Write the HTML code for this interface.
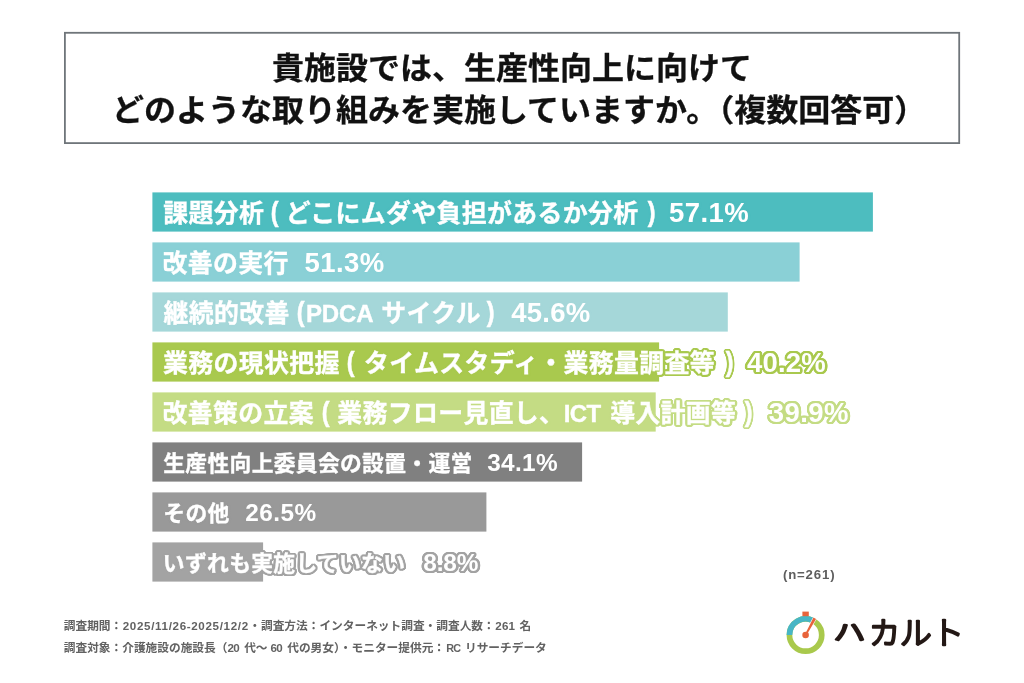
<!DOCTYPE html>
<html lang="ja">
<head>
<meta charset="utf-8">
<title>生産性向上に向けた取り組み</title>
<style>
  html, body { margin: 0; padding: 0; background: #ffffff; }
  body {
    width: 1024px; height: 683px; position: relative; overflow: hidden;
    font-family: "Liberation Sans", "Noto Sans CJK JP", sans-serif;
    font-weight: 700;
    filter: blur(0.45px);
  }
  .titlebox { position: absolute; left: 0; top: 0; }
  .tl {
    position: absolute; font-size: 32px; line-height: 40px; height: 40px;
    color: #111; white-space: nowrap; letter-spacing: 0; -webkit-text-stroke: 0.3px #111;
    transform: scaleY(0.96); transform-origin: 0 50%;
  }
  .tl1 { left: 272px; top: 48.2px; }
  .tl2 { left: 111.9px; top: 90.2px; }

  .bars { position: absolute; left: 0; top: 0; }
  .lbl {
    position: absolute; height: 40px; line-height: 40px;
    color: #fff; white-space: nowrap; letter-spacing: 0;
    -webkit-text-stroke: 0.35px #fff;
    text-shadow: 2.40px 0.00px 0 var(--c), 2.28px 0.74px 0 var(--c), 1.94px 1.41px 0 var(--c), 1.41px 1.94px 0 var(--c), 0.74px 2.28px 0 var(--c), 0.00px 2.40px 0 var(--c), -0.74px 2.28px 0 var(--c), -1.41px 1.94px 0 var(--c), -1.94px 1.41px 0 var(--c), -2.28px 0.74px 0 var(--c), -2.40px 0.00px 0 var(--c), -2.28px -0.74px 0 var(--c), -1.94px -1.41px 0 var(--c), -1.41px -1.94px 0 var(--c), -0.74px -2.28px 0 var(--c), -0.00px -2.40px 0 var(--c), 0.74px -2.28px 0 var(--c), 1.41px -1.94px 0 var(--c), 1.94px -1.41px 0 var(--c), 2.28px -0.74px 0 var(--c), 1.30px 0.00px 0 var(--c), 1.05px 0.76px 0 var(--c), 0.40px 1.24px 0 var(--c), -0.40px 1.24px 0 var(--c), -1.05px 0.76px 0 var(--c), -1.30px 0.00px 0 var(--c), -1.05px -0.76px 0 var(--c), -0.40px -1.24px 0 var(--c), 0.40px -1.24px 0 var(--c), 1.05px -0.76px 0 var(--c);
  }
  .ra { font-size: 24.9px; }
  .rb { font-size: 21.8px; }
  .ra .t { letter-spacing: 0.35px; }
  .rb .t { letter-spacing: 0.3px; }
  .lbl .p { -webkit-text-stroke: 0.5px #fff; display: inline-block; font-size: 1.09em; line-height: 1; transform: scaleX(0.86); position: relative; top: -0.6px; }
  .lbl .v { letter-spacing: 0.3px; -webkit-text-stroke: 0; }
  .foot {
    position: absolute; font-size: 11.7px; color: #626262; white-space: nowrap;
    line-height: 16px; height: 16px;
  }
  .foot .d { font-size: 11.6px; }
  .foot .u { font-size: 10.8px; }
  .ncount { position: absolute; left: 782.9px; top: 567.4px; font-size: 13.2px; letter-spacing: 0.85px; color: #5e5e5e; line-height: 16px; white-space: nowrap; }
</style>
</head>
<body>

<svg class="titlebox" width="1024" height="160" viewBox="0 0 1024 160"><rect x="64.9" y="32.8" width="894.3" height="110.3" fill="#ffffff" stroke="#6f757a" stroke-width="1.8"/></svg>
<div class="tl tl1">貴施設では、生産性向上に向けて</div>
<div class="tl tl2">どのような取り組みを実施していますか。（複数回答可）</div>

<svg class="bars" width="1024" height="683" viewBox="0 0 1024 683">
  <rect x="152.4" y="192.4" width="720.5" height="39.2" fill="#4dbdbf"/>
  <rect x="152.4" y="242.4" width="647.2" height="39.2" fill="#8ad0d6"/>
  <rect x="152.4" y="292.4" width="575.4" height="39.2" fill="#a5d7d9"/>
  <rect x="152.4" y="342.4" width="506.7" height="39.2" fill="#a9c94e"/>
  <rect x="152.4" y="392.4" width="503.3" height="39.2" fill="#c4dc84"/>
  <rect x="152.4" y="442.4" width="429.7" height="39.2" fill="#808080"/>
  <rect x="152.4" y="492.4" width="334" height="39.2" fill="#999999"/>
  <rect x="152.4" y="542.4" width="110.7" height="39.2" fill="#a3a3a3"/>
</svg>
<div class="lbl ra" style="left:163.25px;top:192.50px;--c:#4dbdbf"><span class="t">課題分析</span> <span class="p" style="margin-left:-1.50px">(</span> <span class="t" style="margin-left:0.15px">どこにムダや負担があるか分析</span> <span class="p" style="margin-left:1.55px">)</span>&nbsp; <span class="v" style="margin-left:-0.70px;font-size:27.50px;letter-spacing:0.44px">57.1%</span></div>
<div class="lbl ra" style="left:162.50px;top:242.50px;--c:#8ad0d6"><span class="t">改善の実行</span>&nbsp; <span class="v" style="margin-left:1.95px;font-size:27.50px;letter-spacing:0.46px">51.3%</span></div>
<div class="lbl ra" style="left:163.50px;top:292.50px;--c:#a5d7d9"><span class="t">継続的改善</span> <span class="p" style="margin-left:-0.50px">(</span><span class="l" style="margin-left:0.70px;font-size:24.00px;letter-spacing:-0.10px">PDCA</span> <span class="t" style="margin-left:0.80px">サイクル</span> <span class="p" style="margin-left:-1.40px">)</span>&nbsp; <span class="v" style="margin-left:1.95px;font-size:27.50px;letter-spacing:0.25px">45.6%</span></div>
<div class="lbl ra" style="left:163.00px;top:342.50px;--c:#a9c94e"><span class="t">業務の現状把握</span> <span class="p" style="margin-left:-0.95px">(</span> <span class="t" style="margin-left:2.30px">タイムスタディ・業務量調査等</span> <span class="p" style="margin-left:2.85px">)</span>&nbsp; <span class="v" style="margin-left:-0.75px;font-size:27.50px;letter-spacing:0.20px">40.2%</span></div>
<div class="lbl ra" style="left:162.50px;top:392.50px;--c:#c4dc84"><span class="t">改善策の立案</span> <span class="p" style="margin-left:0.60px">(</span> <span class="t" style="margin-left:-0.25px">業務フロー見直し、</span><span class="l" style="margin-left:-0.70px;font-size:24.00px;letter-spacing:-0.57px">ICT</span> <span class="t" style="margin-left:2.58px">導入計画等</span> <span class="p" style="margin-left:0.90px">)</span>&nbsp; <span class="v" style="margin-left:1.75px;font-size:27.50px;letter-spacing:0.42px">39.9%</span></div>
<div class="lbl rb" style="left:163.25px;top:442.90px;--c:#808080"><span class="t">生産性向上委員会の設置・運営</span>&nbsp; <span class="v" style="margin-left:2.45px;font-size:24.37px;letter-spacing:0.35px">34.1%</span></div>
<div class="lbl rb" style="left:163.35px;top:492.90px;--c:#999999"><span class="t">その他</span>&nbsp; <span class="v" style="margin-left:3.40px;font-size:24.37px;letter-spacing:0.51px">26.5%</span></div>
<div class="lbl rb" style="left:162.85px;top:542.90px;--c:#a3a3a3"><span class="t">いずれも実施していない</span>&nbsp; <span class="v" style="margin-left:5.80px;font-size:24.37px;letter-spacing:-0.07px">8.8%</span></div>

<div class="ncount">(n=261)</div>

<div class="foot" style="left:63.75px;top:618.10px"><span class="t">調査期間：</span><span class="d" style="margin-left:0.55px;letter-spacing:0.66px">2025/11/26-2025/12/2</span><span class="t" style="margin-left:0.21px">・</span><span class="t" style="margin-left:0.30px">調査方法：インターネット調査・調査人数：</span><span class="d" style="margin-left:0.60px;letter-spacing:0.15px">261</span> <span class="t" style="margin-left:1.00px">名</span></div>
<div class="foot" style="left:63.75px;top:640.07px"><span class="t">調査対象：介護施設の施設長（</span><span class="d" style="margin-left:0.15px;letter-spacing:-0.80px">20</span> <span class="t" style="margin-left:2.05px">代～</span> <span class="d" style="margin-left:-0.20px;letter-spacing:-0.75px">60</span> <span class="t" style="margin-left:2.00px">代の男女）・モニター提供元：</span><span class="u" style="margin-left:1.15px;letter-spacing:-0.80px">RC</span> <span class="t" style="margin-left:1.55px">リサーチデータ</span></div>

<svg style="position:absolute;left:770px;top:600px" width="210" height="65" viewBox="770 600 210 65">
  <circle cx="805.6" cy="635.0" r="16.15" fill="none" stroke="#a9c94c" stroke-width="5.7"/>
  <path d="M 789.45 635.00 A 16.15 16.15 0 0 1 813.33 620.82" fill="none" stroke="#47b6c6" stroke-width="5.7"/>
  <rect x="802.4" y="611.6" width="6.4" height="4.6" fill="#e8643b"/>
  <line x1="809.91" y1="627.10" x2="815.41" y2="617.00" stroke="#ffffff" stroke-width="3.8"/>
  <polygon points="804.90,634.62 813.43,617.51 816.06,618.95 806.30,635.38" fill="#e8643b"/>
  <circle cx="805.6" cy="635.0" r="3.3" fill="#e8643b"/>
  <text y="643.9" font-family="'Liberation Sans','Noto Sans CJK JP',sans-serif" font-weight="300" font-size="32" fill="#231815" stroke="#231815" stroke-width="2.4" stroke-linejoin="round" stroke-linecap="round"><tspan x="833.6" y="639.8" font-size="23" textLength="32" lengthAdjust="spacingAndGlyphs">ハ</tspan><tspan x="868.9" y="643.6" font-size="31">カ</tspan><tspan x="899.8" y="643.9">ル</tspan><tspan x="932.1" y="643.9">ト</tspan></text>
</svg>

</body>
</html>
